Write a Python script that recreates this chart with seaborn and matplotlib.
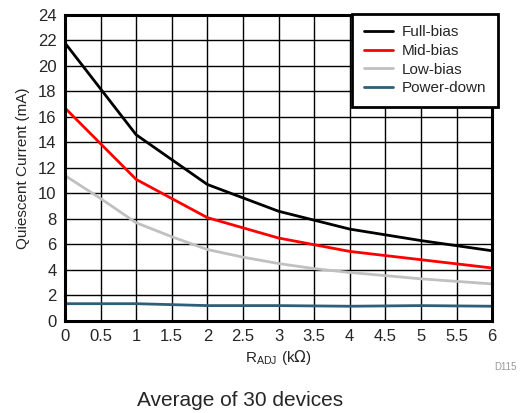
import numpy as np
import pandas as pd
import matplotlib
matplotlib.use("Agg")
import matplotlib.pyplot as plt
import seaborn as sns
from matplotlib.lines import Line2D

# Quiescent current vs R_ADJ
r_full = [0, 1, 2, 3, 4, 5, 6]
full_bias = [21.8, 14.6, 10.7, 8.6, 7.2, 6.3, 5.5]
r_mid = [0, 1, 2, 3, 4, 5, 6]
mid_bias = [16.7, 11.1, 8.1, 6.5, 5.45, 4.8, 4.15]
r_low = [0, 0.5, 1, 1.5, 2, 2.5, 3, 3.5, 4, 4.5, 5, 5.5, 6]
low_bias = [11.4, 9.6, 7.7, 6.6, 5.6, 5.0, 4.5, 4.1, 3.8, 3.55, 3.3, 3.1, 2.9]
r_pd = [0, 1, 2, 3, 4, 5, 6]
power_down = [1.35, 1.35, 1.2, 1.2, 1.15, 1.2, 1.15]

series = {
    "Full-bias": (r_full, full_bias, "black"),
    "Mid-bias": (r_mid, mid_bias, "#ff0000"),
    "Low-bias": (r_low, low_bias, "#c0c0c0"),
    "Power-down": (r_pd, power_down, "#2e5f78"),
}

frames = []
for name, (x, y, _) in series.items():
    frames.append(pd.DataFrame({"R": x, "I": y, "mode": name}))
df = pd.concat(frames, ignore_index=True)

sns.set_style("white")
plt.rcParams["font.family"] = ["Liberation Sans", "DejaVu Sans"]

fig = plt.figure(figsize=(5.28, 4.13), dpi=100)
ax = fig.add_axes([0.123, 0.223, 0.809, 0.741])

palette = {k: v[2] for k, v in series.items()}
sns.lineplot(data=df, x="R", y="I", hue="mode", palette=palette,
             linewidth=2, ax=ax, legend=False)

ax.set_xlim(0, 6)
ax.set_ylim(0, 24)
ax.set_xticks(np.arange(0, 6.01, 0.5))
ax.set_xticklabels(["0", "0.5", "1", "1.5", "2", "2.5", "3", "3.5", "4", "4.5", "5", "5.5", "6"])
ax.set_yticks(np.arange(0, 25, 2))
ax.tick_params(labelsize=12, length=0, pad=6)
ax.grid(True, color="black", linewidth=1)
ax.set_axisbelow(True)
for s in ax.spines.values():
    s.set_linewidth(2.2)
    s.set_color("black")

ax.set_xlabel(r"R$_{\mathregular{ADJ}}$ (k$\Omega$)", fontsize=11, labelpad=3)
ax.set_ylabel("Quiescent Current (mA)", fontsize=11, labelpad=6)

handles = [Line2D([0], [0], color=v[2], lw=2) for v in series.values()]
leg = fig.legend(handles, list(series.keys()), loc="upper right",
                 bbox_to_anchor=(498 / 528, 1 - 14 / 413), fontsize=11,
                 frameon=True, fancybox=False, handlelength=1.9,
                 labelspacing=0.3, borderpad=0.75, handletextpad=0.6,
                 borderaxespad=0)
leg.get_frame().set_edgecolor("black")
leg.get_frame().set_linewidth(2)
leg.get_frame().set_alpha(1)

fig.text(505 / 528, 1 - 367 / 413, "D115", fontsize=7, color="#999999",
         ha="center", va="center")
fig.text(240 / 528, 1 - 400 / 413, "Average of 30 devices", fontsize=15,
         ha="center", va="center")

fig.savefig("out.png", dpi=100)
